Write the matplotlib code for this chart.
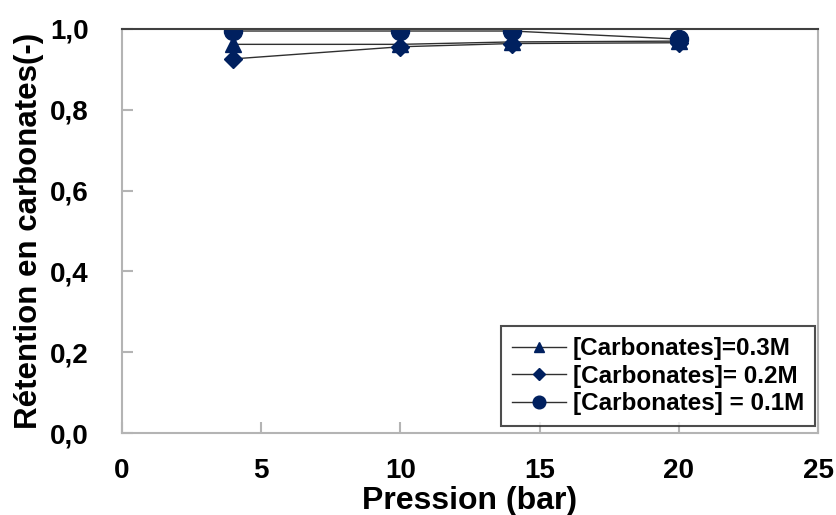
import matplotlib

matplotlib.use("Agg")
import matplotlib.pyplot as plt
from matplotlib.ticker import FuncFormatter

# data
pression = [4, 10, 14, 20]
ret_03M = [0.962, 0.962, 0.968, 0.970]
ret_02M = [0.926, 0.956, 0.964, 0.966]
ret_01M = [0.995, 0.995, 0.995, 0.975]
labels = ["[Carbonates]=0.3M", "[Carbonates]= 0.2M", "[Carbonates] = 0.1M"]

NAVY = "#00205F"
GREY = "#B4B4B4"

plt.rcParams["font.family"] = ["Liberation Sans", "DejaVu Sans"]
plt.rcParams["font.weight"] = "bold"

fig = plt.figure(figsize=(8.37, 5.15), dpi=100)
ax = fig.add_axes([0.1458, 0.1592, 0.8315, 0.7845])

markers = [("^", 11), ("D", 9), ("o", 13)]
for vals, (mk, ms), lab in zip([ret_03M, ret_02M, ret_01M], markers, labels):
    ax.plot(pression, vals, color="#303030", lw=1.0, marker=mk, ms=ms,
            mfc=NAVY, mec=NAVY, label=lab)

ax.set_xlim(0, 25)
ax.set_ylim(0, 1.0)
ax.set_xticks([0, 5, 10, 15, 20, 25])
ax.set_yticks([0, 0.2, 0.4, 0.6, 0.8, 1.0])
ax.yaxis.set_major_formatter(FuncFormatter(lambda v, p: f"{v:.1f}".replace(".", ",")))

for side in ("left", "bottom", "right"):
    ax.spines[side].set_color(GREY)
    ax.spines[side].set_linewidth(1.5)
ax.spines["top"].set_color("#404040")
ax.spines["top"].set_linewidth(1.5)

ax.tick_params(direction="in", length=8, width=1.5, color=GREY, labelsize=20)
ax.tick_params(axis="y", pad=24)
ax.tick_params(axis="x", pad=18)
for t in ax.get_xticklabels() + ax.get_yticklabels():
    t.set_fontweight("bold")

ax.set_xlabel("Pression (bar)", fontsize=23, fontweight="bold")
ax.set_ylabel("Rétention en carbonates(-)", fontsize=22.5, fontweight="bold")
ax.xaxis.set_label_coords(0.5, -0.13)
ax.yaxis.set_label_coords(-0.112, 0.5)

leg = ax.legend(loc="lower right", bbox_to_anchor=(0.996, 0.017),
                prop={"weight": "bold", "size": 17.5}, frameon=True, fancybox=False,
                edgecolor="#202020", handlelength=2.2, borderpad=0.3,
                labelspacing=0.18, handletextpad=0.3, borderaxespad=0)
leg.get_frame().set_linewidth(1.5)
leg._legend_box.pad = 8
for h in leg.legend_handles:
    h.set_markersize(h.get_markersize() * 0.7)

fig.savefig("out.png", dpi=100)
